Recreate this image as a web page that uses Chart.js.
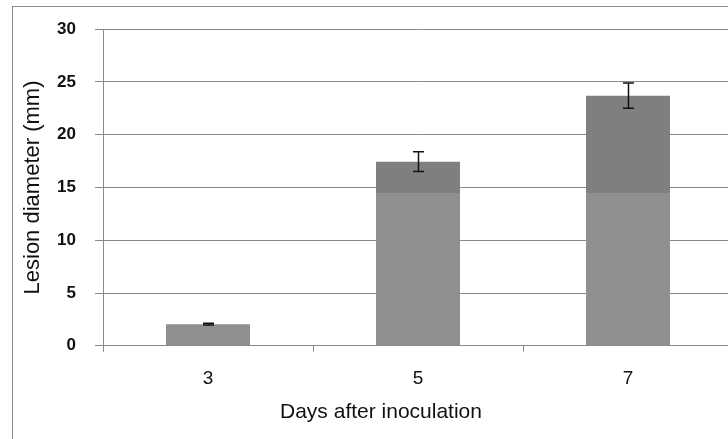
<!DOCTYPE html>
<html>
<head>
<meta charset="utf-8">
<script src="https://cdn.jsdelivr.net/npm/chart.js@4/dist/chart.umd.min.js"></script>
<style>
  html, body { margin:0; padding:0; background:#fff; overflow:hidden; }
  #wrap { width:762px; height:439px; }
</style>
</head>
<body>
<div id="wrap"><canvas id="lesionChart" width="762" height="439"></canvas></div>
<script>
// data
const days = ['3', '5', '7'];
const lesionMean = [2.05, 17.45, 23.7];
const lesionErr = [0.08, 0.93, 1.2];
const yTicks = [0, 5, 10, 15, 20, 25, 30];

const FONT = 'Liberation Sans, Arial, sans-serif';
const GRID = '#8a8a8a';
const INK = '#111';

/* outer frame of the chart area (runs off the right and bottom edges) */
const framePlugin = {
  id: 'frame',
  beforeDraw(chart){
    const c = chart.ctx;
    c.save();
    c.strokeStyle = '#8c8c8c';
    c.lineWidth = 1;
    c.strokeRect(12.5, 6.5, 900, 600);
    c.restore();
  }
};

/* simple error bars, positioned through the y scale */
const errorBarPlugin = {
  id: 'errorBars',
  afterDatasetsDraw(chart){
    const c = chart.ctx;
    const y = chart.scales.y;
    const meta = chart.getDatasetMeta(0);
    c.save();
    c.strokeStyle = '#111';
    c.lineWidth = 1.5;
    meta.data.forEach((bar, i) => {
      const hi = y.getPixelForValue(lesionMean[i] + lesionErr[i]);
      const lo = y.getPixelForValue(lesionMean[i] - lesionErr[i]);
      const x = Math.round(bar.x) + 0.5;
      const cap = 5.5;
      c.beginPath();
      c.moveTo(x, hi); c.lineTo(x, lo);
      c.moveTo(x - cap, hi); c.lineTo(x + cap, hi);
      c.moveTo(x - cap, lo); c.lineTo(x + cap, lo);
      c.stroke();
    });
    c.restore();
  }
};

// bars are a flat grey, a little lighter in the lower part like the scan
function barFill(ctx){
  const chart = ctx.chart;
  const area = chart.chartArea;
  if(!area) return '#858585';
  const split = chart.scales.y.getPixelForValue(14.5);
  const t = (split - area.top) / (area.bottom - area.top);
  const g = chart.ctx.createLinearGradient(0, area.top, 0, area.bottom);
  g.addColorStop(0, '#7f7f7f');
  g.addColorStop(t, '#7f7f7f');
  g.addColorStop(t, '#8f8f8f');
  g.addColorStop(1, '#8f8f8f');
  return g;
}

new Chart(document.getElementById('lesionChart'), {
  type: 'bar',
  data: {
    labels: days,
    datasets: [{
      label: 'Lesion diameter',
      data: lesionMean,
      backgroundColor: barFill,
      borderWidth: 0,
      barPercentage: 0.4,
      categoryPercentage: 1.0
    }]
  },
  options: {
    responsive: false,
    animation: false,
    devicePixelRatio: 1,
    layout: { padding: { left: 0, right: 0, top: 25, bottom: 0 } },
    plugins: {
      legend: { display: false },
      tooltip: { enabled: false },
      title: {
        display: true,
        position: 'bottom',
        text: 'Days after inoculation',
        color: INK,
        font: { family: FONT, size: 21, weight: 'normal' },
        padding: { top: 10, bottom: 14 }
      }
    },
    scales: {
      x: {
        afterFit: s => { s.height = 44; },
        grid: { display: true, drawOnChartArea: false, offset: true, color: GRID, tickLength: 6 },
        border: { color: GRID, width: 1 },
        ticks: { color: INK, padding: 16, font: { family: FONT, size: 19 } }
      },
      y: {
        min: 0, max: 30,
        afterFit: s => { s.width = 103; },
        afterBuildTicks: s => { s.ticks = yTicks.map(v => ({ value: v })); },
        grid: { color: GRID, tickLength: 8 },
        border: { color: GRID, width: 1 },
        ticks: { color: INK, padding: 19, font: { family: FONT, size: 17, weight: 'bold' } },
        title: {
          display: true,
          text: 'Lesion diameter (mm)',
          color: INK,
          font: { family: FONT, size: 22, weight: 'normal' },
          padding: { top: 20, bottom: 0 }
        }
      },
      // empty strip on the right so the plot ends past the window edge
      yRight: {
        position: 'right',
        afterFit: s => { s.width = 29; },
        grid: { display: false },
        border: { display: false },
        ticks: { display: false }
      }
    }
  },
  plugins: [framePlugin, errorBarPlugin]
});
</script>
</body>
</html>
